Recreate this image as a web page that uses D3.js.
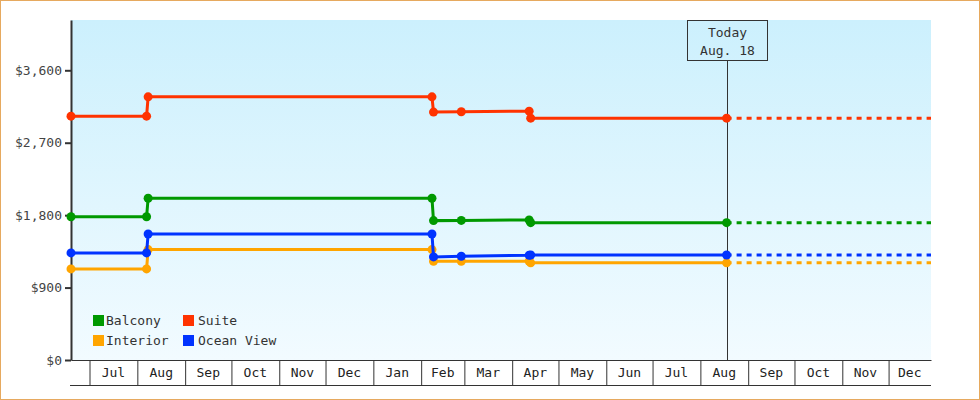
<head>
    <meta charset="utf-8">
    <style>
        body { margin: 0; background: #fff; }
        text { font-family: "DejaVu Sans Mono", "Liberation Mono", monospace; font-size: 13px; }
    </style>
    <script src="https://d3js.org/d3.v7.min.js"></script>
</head>
<body>
<div id="chart"></div>
<script>

// price history, one value per date for every cabin type
var dates = ["2018-06-19", "2018-08-07", "2018-08-08", "2019-02-08", "2019-02-09",
             "2019-02-27", "2019-04-12", "2019-04-13", "2019-08-18"];
var balcony   = [1780, 1780, 2010, 2010, 1732, 1735, 1740, 1707, 1707];
var suite     = [3030, 3030, 3270, 3270, 3081, 3085, 3092, 3005, 3005];
var interior  = [1132, 1132, 1372, 1372, 1227, 1227, 1227, 1207, 1207];
var oceanView = [1331, 1331, 1566, 1566, 1281, 1289, 1301, 1305, 1305];

var seriesNames  = ["Balcony", "Suite", "Interior", "Ocean View"];
var seriesColors = ["#009900", "#ff3300", "#ffa500", "#0033ff"];
var yTicks = [0, 900, 1800, 2700, 3600];
var today = "2019-08-18";
var todayLabel = ["Today", "Aug. 18"];
var axisStart = "2018-06-19";
var axisEnd = "2019-12-28T12:00";

var W = 980, H = 400;
var margin = { top: 20, bottom: 40, left: 71, right: 49 };

var parse = d3.isoParse;

var svg = d3.select("#chart").append("svg")
    .attr("width", W)
    .attr("height", H);

var defs = svg.append("defs");
var gradient = defs.append("linearGradient")
    .attr("id", "bg")
    .attr("x1", "0%").attr("x2", "0%")
    .attr("y1", "0%").attr("y2", "100%");
gradient.append("stop").attr("offset", "0%").attr("stop-color", "#ccf0fd");
gradient.append("stop").attr("offset", "100%").attr("stop-color", "#f2fbff");

// outer frame
svg.append("rect")
    .attr("x", 0.5).attr("y", 0.5)
    .attr("width", W - 1).attr("height", H - 1)
    .attr("fill", "#fff")
    .attr("stroke", "#e6a95f");

var x = d3.scaleTime()
    .domain([parse(axisStart), parse(axisEnd)])
    .range([margin.left, W - margin.right]);

var y = d3.scaleLinear()
    .domain([0, 4225])
    .range([H - margin.bottom, margin.top]);

svg.append("rect")
    .attr("x", x.range()[0])
    .attr("y", margin.top)
    .attr("width", x.range()[1] - x.range()[0])
    .attr("height", H - margin.bottom - margin.top)
    .attr("fill", "url(#bg)");

// x axis: month cells
var months = d3.timeMonth.range(d3.timeMonth.ceil(x.domain()[0]), x.domain()[1]);

var xAxis = svg.append("g")
    .attr("transform", `translate(0,${H - margin.bottom})`)
    .call(d3.axisBottom(x).tickValues(months).tickSize(25).tickSizeOuter(0).tickFormat(""));
xAxis.select(".domain").attr("stroke", "#333");
xAxis.selectAll(".tick line").attr("stroke", "#333");

svg.append("line")
    .attr("x1", x.range()[0] - 1).attr("x2", x.range()[1])
    .attr("y1", H - margin.bottom + 25.5).attr("y2", H - margin.bottom + 25.5)
    .attr("stroke", "#333");

var fmtMonth = d3.timeFormat("%b");
svg.append("g").selectAll("text")
    .data(months)
    .enter()
    .append("text")
    .attr("x", d => {
        var next = d3.timeMonth.offset(d, 1);
        if (next > x.domain()[1]) next = x.domain()[1];
        return (x(d) + x(next)) / 2;
    })
    .attr("y", H - margin.bottom + 17)
    .attr("text-anchor", "middle")
    .attr("fill", "#222")
    .text(fmtMonth);

// y axis
var yAxis = svg.append("g")
    .attr("transform", `translate(${margin.left},0)`)
    .call(d3.axisLeft(y).tickValues(yTicks).tickSize(6).tickSizeOuter(0).tickPadding(3)
        .tickFormat(d => "$" + d3.format(",")(d)));
yAxis.select(".domain").attr("stroke", "#333").attr("stroke-width", 2);
yAxis.selectAll(".tick line").attr("stroke", "#333").attr("stroke-width", 2);
yAxis.selectAll(".tick text")
    .attr("fill", "#444")
    .style("font-family", "DejaVu Sans Mono")
    .style("font-size", "13px");

// today marker
var tx = Math.round(x(parse(today))) + 0.5;
svg.append("line")
    .attr("x1", tx).attr("x2", tx)
    .attr("y1", margin.top + 40).attr("y2", H - margin.bottom)
    .attr("stroke", "#333");
svg.append("rect")
    .attr("x", tx - 40).attr("y", margin.top + 0.5)
    .attr("width", 80).attr("height", 40)
    .attr("fill", "none")
    .attr("stroke", "#333");
svg.append("g").selectAll("text")
    .data(todayLabel)
    .enter()
    .append("text")
    .attr("x", tx)
    .attr("y", (d, i) => margin.top + 17 + i * 18)
    .attr("text-anchor", "middle")
    .attr("fill", "#333")
    .text(d => d);

// series
var allValues = [balcony, suite, interior, oceanView];
var series = seriesNames.map((name, i) => ({
    name: name,
    color: seriesColors[i],
    points: dates.map((d, j) => ({ date: parse(d), value: allValues[i][j] }))
}));

var line = d3.line()
    .x(d => x(d.date))
    .y(d => y(d.value));

var plot = svg.append("g");

series.forEach(s => {
    var last = s.points[s.points.length - 1];
    plot.append("path")
        .datum([last, { date: x.domain()[1], value: last.value }])
        .attr("d", line)
        .attr("fill", "none")
        .attr("stroke", s.color)
        .attr("stroke-width", 3)
        .attr("stroke-dasharray", "5,5");

    plot.append("path")
        .datum(s.points)
        .attr("d", line)
        .attr("fill", "none")
        .attr("stroke", s.color)
        .attr("stroke-width", 3);

    plot.append("g").selectAll("circle")
        .data(s.points)
        .enter()
        .append("circle")
        .attr("cx", d => x(d.date))
        .attr("cy", d => y(d.value))
        .attr("r", 4.5)
        .attr("fill", s.color);
});

// legend, two columns
var legend = svg.append("g").attr("transform", "translate(93,315)");
var items = legend.selectAll("g")
    .data(series)
    .enter()
    .append("g")
    .attr("transform", (d, i) => `translate(${(i % 2) * 90},${Math.floor(i / 2) * 20})`);
items.append("rect")
    .attr("width", 11).attr("height", 11)
    .attr("fill", d => d.color);
items.append("text")
    .attr("x", (d, i) => i % 2 ? 15 : 13)
    .attr("y", 10)
    .attr("fill", "#333")
    .text(d => d.name);

</script>
</body>
